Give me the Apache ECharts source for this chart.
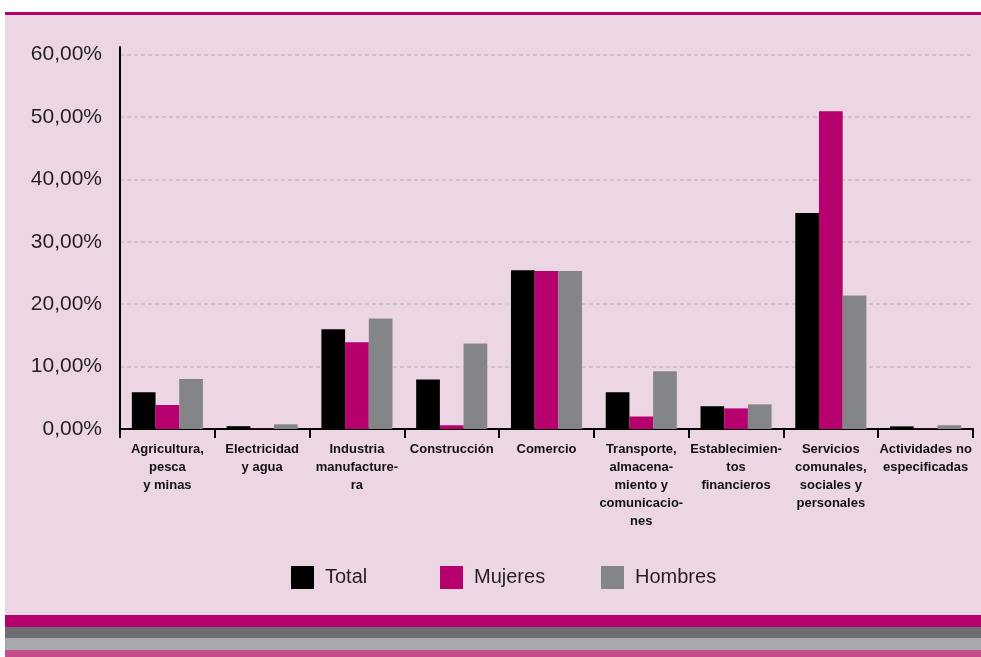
<!DOCTYPE html>
<html>
<head>
<meta charset="utf-8">
<script src="https://cdn.jsdelivr.net/npm/echarts@6/dist/echarts.min.js"></script>
<style>
  html, body { margin: 0; padding: 0; background: #fff; }
  #chart { width: 981px; height: 657px; }
</style>
</head>
<body>
<div id="chart"></div>
<script>
// categorias del eje x (con los cortes de linea del original)
var categorias = [
  'Agricultura,\npesca\ny minas',
  'Electricidad\ny agua',
  'Industria\nmanufacture-\nra',
  'Construcción',
  'Comercio',
  'Transporte,\nalmacena-\nmiento y\ncomunicacio-\nnes',
  'Establecimien-\ntos\nfinancieros',
  'Servicios\ncomunales,\nsociales y\npersonales',
  'Actividades no\nespecificadas'
];
var total = [5.9, 0.45, 16.0, 7.95, 25.45, 5.9, 3.65, 34.6, 0.42];
var mujeres = [3.85, 0.05, 13.9, 0.6, 25.3, 2.0, 3.3, 50.9, 0.05];
var hombres = [8.0, 0.75, 17.7, 13.7, 25.3, 9.25, 3.95, 21.4, 0.6];
var nombres = ['Total', 'Mujeres', 'Hombres'];

var colores = ['#000000', '#b5006e', '#848589'];
var rosa = '#edd6e3';

var chartDom = document.getElementById('chart');
var myChart = echarts.init(chartDom, null, { renderer: 'canvas' });

function leyenda(nombre, left) {
  return {
    data: [nombre],
    left: left,
    top: 566,
    padding: 0,
    itemWidth: 23,
    itemHeight: 23,
    icon: 'rect',
    textStyle: {
      fontFamily: 'Liberation Sans',
      fontSize: 20,
      color: '#231f20',
      padding: [0, 0, 0, 6]
    }
  };
}

var option = {
  animation: false,
  color: colores,
  graphic: [
    { type: 'rect', shape: { x: 5, y: 15, width: 976, height: 600 }, style: { fill: rosa }, z: -10 },
    { type: 'rect', shape: { x: 5, y: 12, width: 976, height: 3 }, style: { fill: '#b5006e' }, z: -10 },
    { type: 'rect', shape: { x: 5, y: 615, width: 976, height: 12 }, style: { fill: '#b5006e' }, z: -10 },
    { type: 'rect', shape: { x: 5, y: 627, width: 976, height: 11 }, style: { fill: '#6d6e71' }, z: -10 },
    { type: 'rect', shape: { x: 5, y: 638, width: 976, height: 12 }, style: { fill: '#a7a8ab' }, z: -10 },
    { type: 'rect', shape: { x: 5, y: 650, width: 976, height: 7 }, style: { fill: '#c34d8a' }, z: -10 }
  ],
  legend: [
    leyenda(nombres[0], 291),
    leyenda(nombres[1], 440),
    leyenda(nombres[2], 601)
  ],
  grid: {
    left: 120,
    right: 8,
    top: 47,
    bottom: 228,
    containLabel: false
  },
  xAxis: {
    type: 'category',
    data: categorias,
    axisLine: { lineStyle: { color: '#000', width: 2 } },
    axisTick: { show: true, length: 9, lineStyle: { color: '#000', width: 2 } },
    axisLabel: {
      interval: 0,
      margin: 11,
      fontFamily: 'Liberation Sans',
      fontWeight: 'bold',
      fontSize: 13,
      lineHeight: 18,
      color: '#111'
    }
  },
  yAxis: {
    type: 'value',
    min: 0,
    max: 61.2,
    interval: 10,
    axisLine: { show: true, lineStyle: { color: '#000', width: 2 } },
    axisTick: { show: false },
    axisLabel: {
      showMaxLabel: false,
      margin: 18,
      fontFamily: 'Liberation Sans',
      fontSize: 21,
      color: '#231f20',
      formatter: function (v) {
        return v.toFixed(2).replace('.', ',') + '%';
      }
    },
    splitLine: {
      show: true,
      showMinLine: false,
      showMaxLine: false,
      lineStyle: { color: '#c2bdc1', type: [4, 3], width: 1.5 }
    }
  },
  series: [
    { name: nombres[0], type: 'bar', data: total, barGap: 0, barCategoryGap: '25%' },
    { name: nombres[1], type: 'bar', data: mujeres, barGap: 0, barCategoryGap: '25%' },
    { name: nombres[2], type: 'bar', data: hombres, barGap: 0, barCategoryGap: '25%' }
  ]
};

myChart.setOption(option, true);
</script>
</body>
</html>
